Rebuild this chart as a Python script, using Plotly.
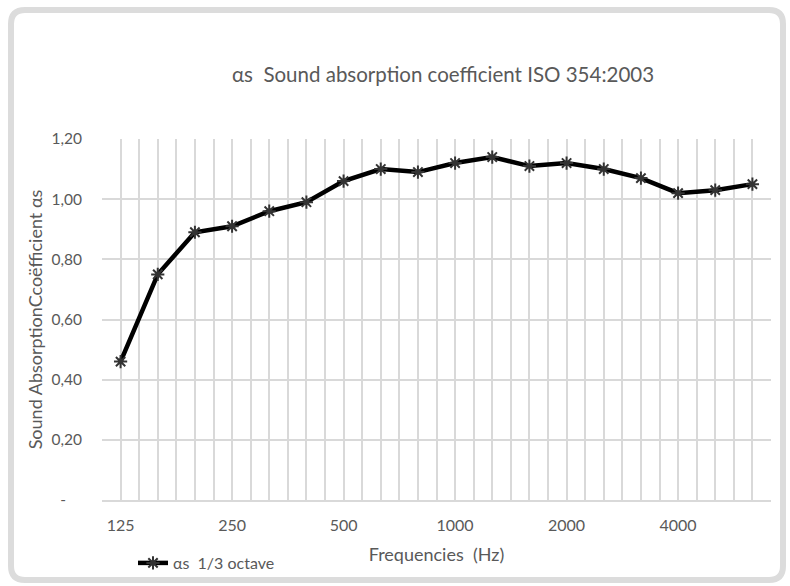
import plotly.graph_objects as go

# Data
frequencies = [125, 160, 200, 250, 315, 400, 500, 630, 800, 1000,
               1250, 1600, 2000, 2500, 3150, 4000, 5000, 6300]
alpha_s = [0.46, 0.75, 0.89, 0.91, 0.96, 0.99, 1.06, 1.10, 1.09, 1.12,
           1.14, 1.11, 1.12, 1.10, 1.07, 1.02, 1.03, 1.05]
shown_labels = [125, 250, 500, 1000, 2000, 4000]
y_ticks = [0, 0.2, 0.4, 0.6, 0.8, 1.0, 1.2]
y_ticktext = ["-\u00a0\u00a0\u00a0\u00a0", "0,20", "0,40", "0,60", "0,80", "1,00", "1,20"]

FONT = "Lato"
GREY = "#595959"
GRID = "#d9d9d9"

W, H = 790, 586
L, R, T, B = 102, 771, 139, 500

idx = list(range(len(frequencies)))
tickvals = [frequencies.index(f) for f in shown_labels]

fig = go.Figure()
fig.add_trace(go.Scatter(
    x=idx, y=alpha_s, mode="lines+markers",
    name="\u03b1s  1/3 octave",
    line=dict(color="#000000", width=4.5),
    marker=dict(symbol="asterisk-open", size=11,
                line=dict(color="#333333", width=2), color="#333333"),
))

def px(x):
    return (x - L) / (R - L)

def py(y):
    return (B - y) / (B - T)

# rounded frame
x0, y0, x1, y1, r = 11, 10, 783, 580, 14
path = (f"M {px(x0+r)},{py(y0)} L {px(x1-r)},{py(y0)} Q {px(x1)},{py(y0)} {px(x1)},{py(y0+r)} "
        f"L {px(x1)},{py(y1-r)} Q {px(x1)},{py(y1)} {px(x1-r)},{py(y1)} "
        f"L {px(x0+r)},{py(y1)} Q {px(x0)},{py(y1)} {px(x0)},{py(y1-r)} "
        f"L {px(x0)},{py(y0+r)} Q {px(x0)},{py(y0)} {px(x0+r)},{py(y0)} Z")
fig.add_shape(type="path", path=path, xref="paper", yref="paper",
              line=dict(color="#dcdcdc", width=6), layer="below")

half = [i * 0.5 - 0.5 for i in range(2 * len(frequencies) + 1)]

fig.update_layout(
    width=W, height=H,
    margin=dict(l=L, r=W - R, t=T, b=H - B, autoexpand=False),
    paper_bgcolor="white", plot_bgcolor="white",
    font=dict(family=FONT, color=GREY, size=15),
    title=dict(text="\u03b1s  Sound absorption coefficient ISO 354:2003",
               x=443 / W, xanchor="center", y=1 - 75 / H, yanchor="middle",
               font=dict(size=20.5, color=GREY, family=FONT)),
    showlegend=True,
    legend=dict(x=px(133), y=py(563), xanchor="left", yanchor="middle",
                orientation="h", font=dict(size=16, color=GREY),
                bgcolor="rgba(0,0,0,0)"),
    xaxis=dict(
        range=[-0.5, len(frequencies) - 0.5],
        tickmode="array", tickvals=tickvals,
        ticktext=[str(f) for f in shown_labels],
        showgrid=False, zeroline=False,
        showline=True, linecolor=GRID, linewidth=1.5,
        ticks="", ticklabelstandoff=10,
        tickfont=dict(size=16, color=GREY),
        minor=dict(tickmode="array", tickvals=half, showgrid=True,
                   gridcolor=GRID, gridwidth=1.5, ticks=""),
        title=dict(text="Frequencies  (Hz)", standoff=15,
                   font=dict(size=18, color=GREY)),
        fixedrange=True,
    ),
    yaxis=dict(
        range=[0, 1.2],
        tickmode="array", tickvals=y_ticks, ticktext=y_ticktext,
        showgrid=True, gridcolor=GRID, gridwidth=1.5,
        zeroline=False, showline=False, ticks="",
        ticklabelstandoff=19,
        tickfont=dict(size=15.5, color=GREY),
        title=dict(text="Sound AbsorptionCcoëfficient \u03b1s", standoff=4,
                   font=dict(size=18, color=GREY)),
        fixedrange=True,
    ),
)

fig.write_html("out.html", config={"displayModeBar": False},
               post_script="document.body.style.margin='0';document.body.style.overflow='hidden';")
